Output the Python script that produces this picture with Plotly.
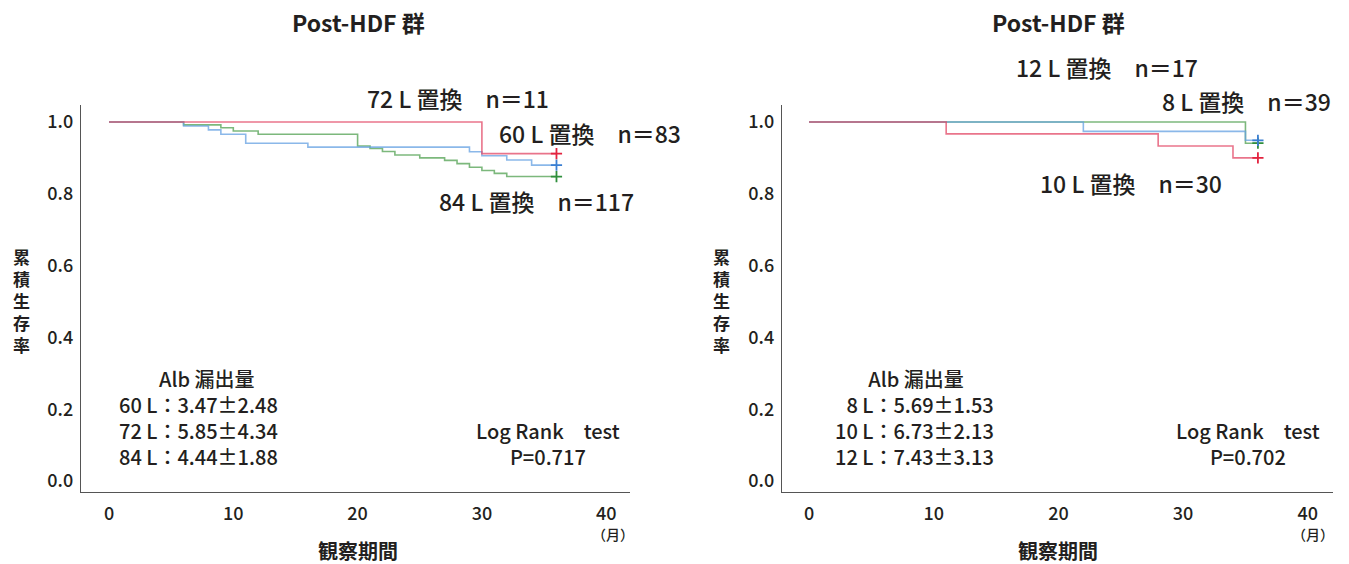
import plotly.graph_objects as go

W, H = 1349, 564

# ---------------- data ----------------
# Left panel (Post-HDF 群, 60/72/84 L 置換)
t72 = [0, 30, 36]
s72 = [1.0, 0.912, 0.912]
t60 = [0, 6, 8, 9, 11, 16, 29, 30, 32, 34, 36]
s60 = [1.0, 0.989, 0.978, 0.966, 0.941, 0.930, 0.917, 0.906, 0.894, 0.880, 0.880]
t84 = [0, 6, 9, 10, 12, 20, 21, 22, 23, 25, 27, 28, 29, 30, 31, 32, 36]
s84 = [1.0, 0.992, 0.984, 0.975, 0.966, 0.933, 0.926, 0.918, 0.908, 0.900, 0.893,
       0.884, 0.874, 0.865, 0.857, 0.848, 0.848]

# Right panel (Post-HDF 群, 8/10/12 L 置換)
t10 = [0, 11, 28, 34, 36]
s10 = [1.0, 0.967, 0.933, 0.900, 0.900]
t8 = [0, 22, 35, 36]
s8 = [1.0, 0.974, 0.949, 0.949]
t12 = [0, 35, 36]
s12 = [1.0, 0.941, 0.941]

x_ticks = [0, 10, 20, 30, 40]
y_ticks = [0.0, 0.2, 0.4, 0.6, 0.8, 1.0]
y_ticklabels = ["0.0", "0.2", "0.4", "0.6", "0.8", "1.0"]

left_labels = ["72 L 置換　n＝11", "60 L 置換　n＝83", "84 L 置換　n＝117"]
right_labels = ["12 L 置換　n＝17", "8 L 置換　n＝39", "10 L 置換　n＝30"]
left_alb = ["60 L：3.47±2.48", "72 L：5.85±4.34", "84 L：4.44±1.88"]
right_alb = ["8 L：5.69±1.53", "10 L：6.73±2.13", "12 L：7.43±3.13"]
left_p = "P=0.717"
right_p = "P=0.702"
y_title_chars = ["累", "積", "生", "存", "率"]

# ---------------- style ----------------
FONT = "Noto Sans CJK JP"
TXT = "#231f20"
RED_L, RED_M = "rgba(225,70,100,0.75)", "#e3233f"
BLUE_L, BLUE_M = "rgba(100,160,225,0.75)", "#3b7fd2"
GREEN_L, GREEN_M = "rgba(80,160,80,0.75)", "#2f8f3c"


def px(x):
    return x / W


def py(y):
    return 1 - y / H


fig = go.Figure()


def km(t, s, lc, mc, xa, ya):
    fig.add_trace(go.Scatter(x=t, y=s, mode="lines", line=dict(color=lc, width=1.6, shape="hv"),
                             xaxis=xa, yaxis=ya, showlegend=False, hoverinfo="skip"))
    fig.add_trace(go.Scatter(x=[t[-1]], y=[s[-1]], mode="markers",
                             marker=dict(symbol="cross-thin", size=8, line=dict(color=mc, width=1.8)),
                             xaxis=xa, yaxis=ya, showlegend=False, hoverinfo="skip"))


km(t84, s84, GREEN_L, GREEN_M, "x", "y")
km(t60, s60, BLUE_L, BLUE_M, "x", "y")
km(t72, s72, RED_L, RED_M, "x", "y")
km(t12, s12, GREEN_L, GREEN_M, "x2", "y2")
km(t8, s8, BLUE_L, BLUE_M, "x2", "y2")
km(t10, s10, RED_L, RED_M, "x2", "y2")

ydom = [py(492), py(105)]
yr = [-11 / 359, 1 + 17 / 359]

axis_common = dict(showgrid=False, zeroline=False, showline=True, linecolor="#555", linewidth=1.3,
                   ticks="", tickfont=dict(family=FONT, size=18, color=TXT, weight=500))

fig.update_layout(
    width=W, height=H, margin=dict(l=0, r=0, t=0, b=0),
    paper_bgcolor="white", plot_bgcolor="white",
    xaxis=dict(domain=[px(81), px(630)], range=[(81 - 109) / 12.43, (630 - 109) / 12.43],
               tickvals=x_ticks, anchor="y", **axis_common),
    yaxis=dict(domain=ydom, range=yr, tickvals=y_ticks, ticktext=y_ticklabels, anchor="x", **axis_common),
    xaxis2=dict(domain=[px(782), px(1333)], range=[(782 - 809) / 12.47, (1333 - 809) / 12.47],
                tickvals=x_ticks, anchor="y2", **axis_common),
    yaxis2=dict(domain=ydom, range=yr, tickvals=y_ticks, ticktext=y_ticklabels, anchor="x2", **axis_common),
)
fig.update_xaxes(ticklabelstandoff=5)
fig.update_yaxes(ticklabelstandoff=3)

ann = []


def text(x, y, s, size, xanchor="center", bold=False, weight=500, align="center"):
    ann.append(dict(x=px(x), y=py(y), xref="paper", yref="paper", text=s, align=align,
                    showarrow=False, xanchor=xanchor, yanchor="middle",
                    font=dict(family=FONT, size=size, color=TXT, weight=700 if bold else weight)))


for off, labels, alb, pval, lbl_pos in [
    (0, left_labels, left_alb, left_p, [(458, 98), (590, 133), (536, 201)]),
    (700, right_labels, right_alb, right_p, [(1107, 67), (1246, 101), (1131, 183)]),
]:
    text(358 + off, 22, "Post-HDF 群", 23, bold=True)
    for (x, y), s in zip(lbl_pos, labels):
        text(x, y, s, 23)
    if off == 0:
        block = "　　Alb 漏出量<br>" + "<br>".join(alb)
        text(117, 417, block, 20, xanchor="left", align="left")
    else:
        block = "Alb 漏出量　\u2002<br>" + "<br>".join(alb)
        text(996, 417, block, 20, xanchor="right", align="right")
    text(548 + off, 443, "Log Rank　test<br>" + pval, 20)
    text(21 + off, 300, "<br>".join(y_title_chars), 17, bold=True)
    text(358 + off, 550, "観察期間", 20, bold=True)
    text(613 + off, 534, "（月）", 14)

fig.update_layout(annotations=ann)
fig.write_html("out.html")
